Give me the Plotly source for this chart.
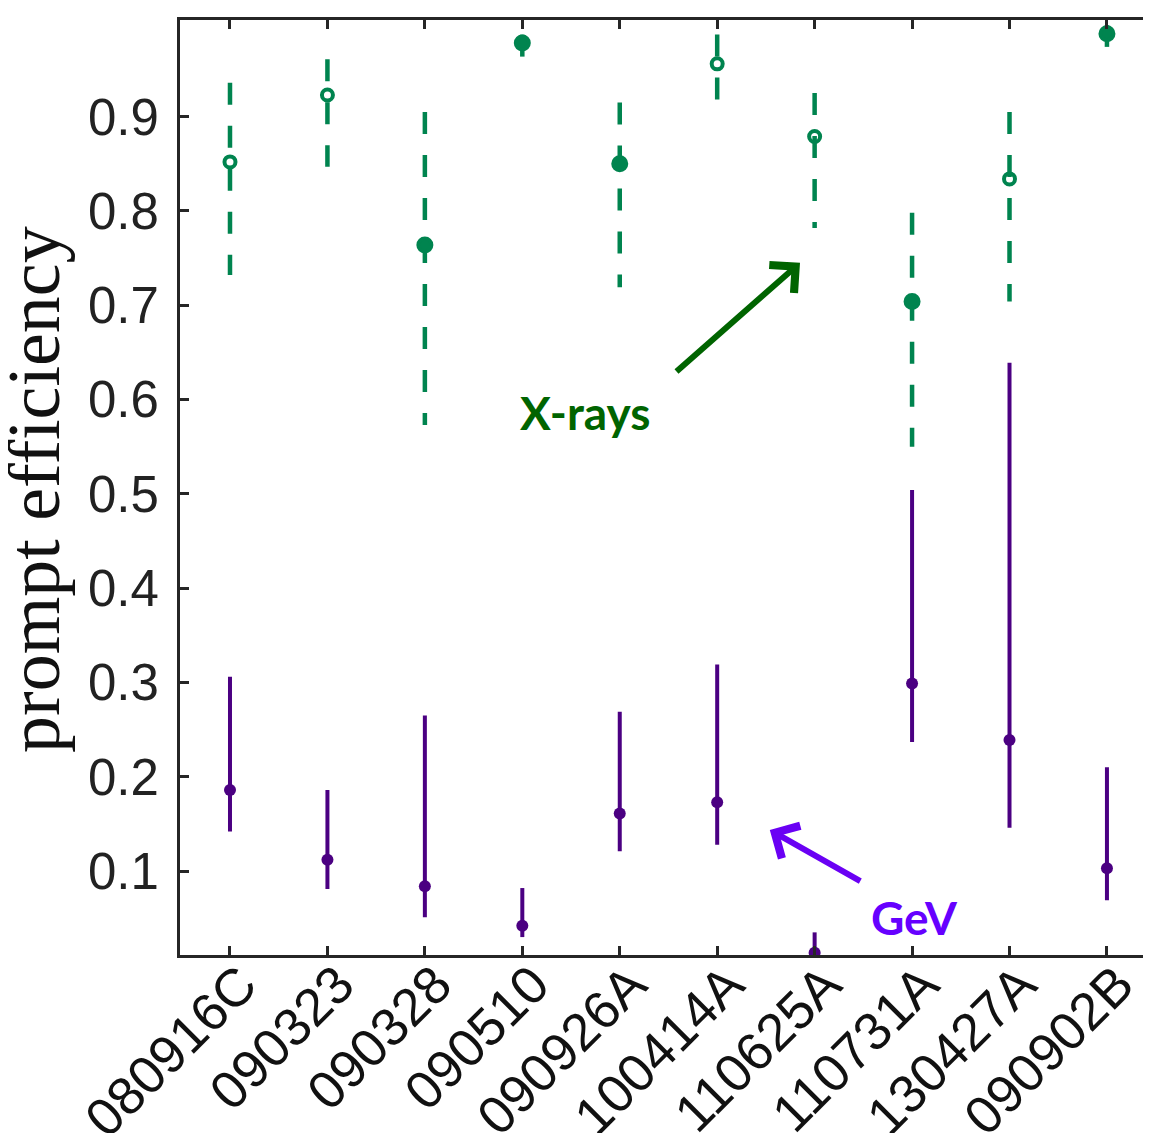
import plotly.graph_objects as go

# ---------------- data ----------------
grbs = ["080916C", "090323", "090328", "090510", "090926A",
        "100414A", "110625A", "110731A", "130427A", "090902B"]

xray_val = [0.852, 0.923, 0.764, 0.978, 0.850, 0.956, 0.879, 0.704, 0.834, 0.988]
xray_hi = [0.936, 0.961, 0.905, 0.987, 0.915, 0.987, 0.925, 0.798, 0.905, 0.997]
xray_lo = [0.732, 0.847, 0.573, 0.963, 0.719, 0.916, 0.782, 0.550, 0.704, 0.974]
xray_open = [True, True, False, False, False, True, True, False, True, False]

gev_val = [0.186, 0.112, 0.084, 0.042, 0.161, 0.173, 0.0135, 0.299, 0.239, 0.103]
gev_hi = [0.306, 0.186, 0.265, 0.082, 0.269, 0.319, 0.035, 0.504, 0.639, 0.210]
gev_lo = [0.142, 0.081, 0.051, 0.030, 0.121, 0.128, 0.0, 0.237, 0.146, 0.069]

y_ticks = [0.1, 0.2, 0.3, 0.4, 0.5, 0.6, 0.7, 0.8, 0.9]

GREEN = "#00844f"
PURPLE = "#4b0082"
AXC = "#262626"

idx = list(range(len(grbs)))

fig = go.Figure()

# X-ray dashed error bars (one trace each, drawn top -> bottom)
for i in idx:
    fig.add_trace(go.Scatter(
        x=[i, i], y=[xray_hi[i], xray_lo[i]], mode="lines",
        line=dict(color=GREEN, width=4.5, dash="22px,21px"),
        hoverinfo="skip", showlegend=False))

# X-ray markers
fig.add_trace(go.Scatter(
    x=idx, y=xray_val, mode="markers", showlegend=False,
    marker=dict(
        symbol=["circle-open" if o else "circle" for o in xray_open],
        size=[11 if o else 13 for o in xray_open], opacity=1,
        color=GREEN, line=dict(color=GREEN, width=4))))

# GeV points with solid error bars
fig.add_trace(go.Scatter(
    x=idx, y=gev_val, mode="markers", showlegend=False,
    marker=dict(symbol="circle", size=12, color=PURPLE, opacity=1),
    error_y=dict(type="data", symmetric=False,
                 array=[h - v for h, v in zip(gev_hi, gev_val)],
                 arrayminus=[v - l for v, l in zip(gev_val, gev_lo)],
                 color=PURPLE, thickness=4, width=0)))

# page body has an 8px margin: figure sized to the visible page area
W, H = 1135, 1125
L, R, T, B = 172, 0, 12, 178
yr = [0.011, 1.0025]
xr = [-0.513, 9.370]

fig.update_layout(
    width=W, height=H,
    margin=dict(l=L, r=R, t=T, b=B, autoexpand=False),
    paper_bgcolor="white",
    plot_bgcolor="white",
    showlegend=False,
    xaxis=dict(
        range=xr, tickvals=idx, ticktext=grbs, tickangle=-45,
        showline=True, linecolor=AXC, linewidth=3, mirror="ticks",
        ticks="inside", ticklen=9, tickwidth=3, tickcolor=AXC,
        showgrid=False, zeroline=False, ticklabeloverflow="allow",
        ticklabelstandoff=-26, ticklabelshift=11,
        tickfont=dict(family="Liberation Sans, Arial", size=53, color="#111111")),
    yaxis=dict(
        range=yr, tickvals=y_ticks, ticktext=[f"{v:.1f}" for v in y_ticks],
        showline=True, linecolor=AXC, linewidth=3,
        ticks="inside", ticklen=9, tickwidth=3, tickcolor=AXC,
        showgrid=False, zeroline=False, ticklabelstandoff=8,
        tickfont=dict(family="Liberation Sans, Arial", size=51, color="#222222")),
    yaxis2=dict(
        range=yr, tickvals=y_ticks, overlaying="y", side="right", anchor="x",
        showline=False, showticklabels=False,
        ticks="inside", ticklen=9, tickwidth=3, tickcolor=AXC,
        showgrid=False, zeroline=False),
)

# y-axis title as a rotated annotation (free of margin constraints)
pw, ph = W - L - R, H - T - B
fig.add_annotation(x=(26 - L) / pw, y=(H - B - 482) / ph, xref="paper", yref="paper",
                   text="prompt efficiency", textangle=-90, showarrow=False,
                   xanchor="center", yanchor="middle",
                   font=dict(family="Liberation Serif, Times New Roman", size=74,
                             color="#111111"))

# arrows and labels
fig.add_annotation(x=5.85, y=0.745, ax=-125, ay=110, xref="x", yref="y",
                   text="", showarrow=True, arrowhead=4, arrowsize=1.2,
                   arrowwidth=6, arrowcolor="#006400")
fig.add_annotation(x=5.54, y=0.1436, ax=92, ay=52, xref="x", yref="y",
                   text="", showarrow=True, arrowhead=4, arrowsize=1.2,
                   arrowwidth=6, arrowcolor="#6a00f4")
fig.add_annotation(x=3.643, y=0.5868, xref="x", yref="y", text="<b>X-rays</b>",
                   showarrow=False,
                   font=dict(family="Lato, Open Sans", size=46, color="#006400"))
fig.add_annotation(x=7.03, y=0.0513, xref="x", yref="y", text="<b>GeV</b>",
                   showarrow=False,
                   font=dict(family="Lato, Open Sans", size=46, color="#6600ff"))

fig.write_html("out.html")
